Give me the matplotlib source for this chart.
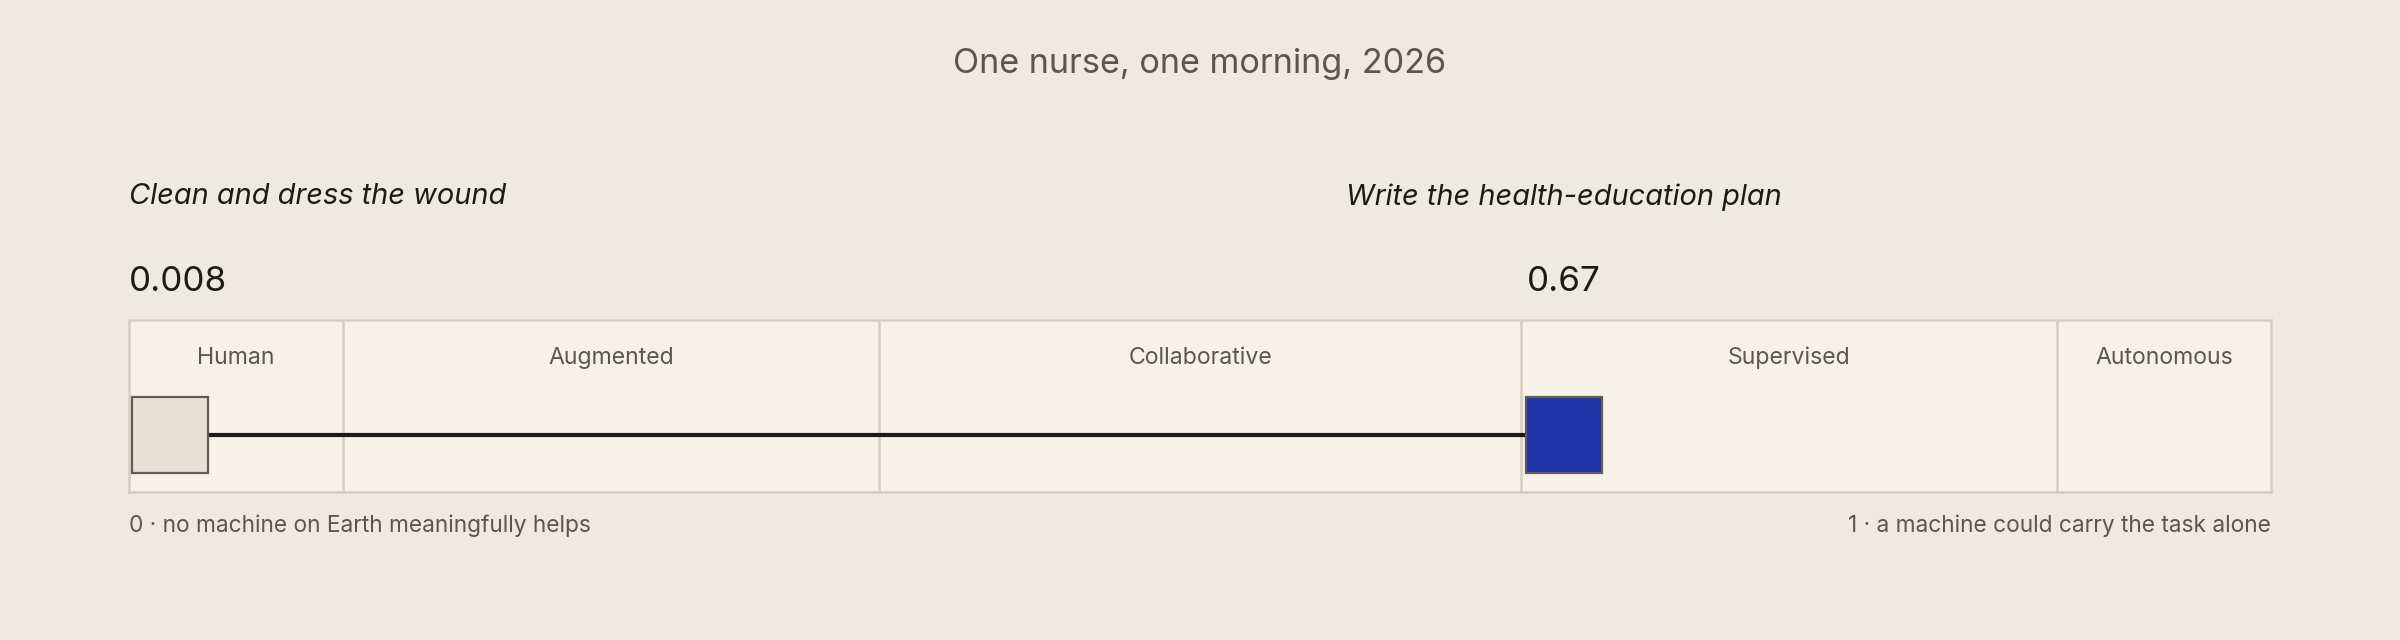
import matplotlib
matplotlib.use("Agg")
import matplotlib.pyplot as plt
from matplotlib.transforms import blended_transform_factory

plt.rcParams["font.family"] = ["Inter", "DejaVu Sans"]

# data
title = "One nurse, one morning, 2026"
tasks = ["Clean and dress the wound", "Write the health-education plan"]
scores = [0.008, 0.67]
score_labels = ["0.008", "0.67"]
marker_fill = ["#E8E1D5", "#1F34A9"]
zones = ["Human", "Augmented", "Collaborative", "Supervised", "Autonomous"]
zone_edges = [0.0, 0.1, 0.35, 0.65, 0.9, 1.0]
axis_left_note = "0 · no machine on Earth meaningfully helps"
axis_right_note = "1 · a machine could carry the task alone"

BG = "#EEEAE0"
BAND = "#F6F2E8"
RULE = "#D5CEBF"
INK = "#1C1B18"
MUTED = "#5B574E"

W, H, DPI = 2400, 640, 200
fig = plt.figure(figsize=(W / DPI, H / DPI), dpi=DPI, facecolor=BG)

# band geometry in pixels
bx0, bx1, by0, by1 = 129, 2271, 320, 491.5
ax = fig.add_axes([bx0 / W, 1 - by1 / H, (bx1 - bx0) / W, (by1 - by0) / H])
ax.set_xlim(0, 1)
ax.set_ylim(0, 1)
ax.set_facecolor(BAND)
for s in ax.spines.values():
    s.set_color(RULE)
    s.set_linewidth(0.9)
ax.set_xticks([])
ax.set_yticks([])

for e in zone_edges[1:-1]:
    ax.axvline(e, color=RULE, lw=0.9, zorder=1)
for name, a, b in zip(zones, zone_edges[:-1], zone_edges[1:]):
    ax.text((a + b) / 2, 0.78, name, ha="center", va="center",
            fontsize=8.3, color=MUTED)

# markers clamped so they stay inside the band
msize_px = 76
half = (msize_px / 2 + 3) / (bx1 - bx0)
xs = [min(max(v, half), 1 - half) for v in scores]
y_line = 0.33
ax.plot(xs, [y_line] * len(xs), color=INK, lw=1.5, zorder=2,
        solid_capstyle="butt")
for x, fc in zip(xs, marker_fill):
    ax.plot([x], [y_line], marker="s", ms=msize_px * 72 / DPI, mfc=fc,
            mec="#625D51", mew=0.8, ls="none", zorder=3, clip_on=False)

# labels above the band, centred on the marker but kept within band edges
fig.canvas.draw()
renderer = fig.canvas.get_renderer()


def place(text, x, y_px, size, style="normal", color=INK):
    px = ax.transData.transform((x, 0))[0]
    t = fig.text(px / W, 1 - y_px / H, text, ha="center", va="center",
                 fontsize=size, style=style, color=color)
    bb = t.get_window_extent(renderer)
    if bb.x0 < bx0:
        t.set_ha("left")
        t.set_x(bx0 / W)
    elif bb.x1 > bx1:
        t.set_ha("right")
        t.set_x(bx1 / W)
    return t


for task, lab, x in zip(tasks, score_labels, xs):
    place(task, x, 197, 10.45, style="italic")
    place(lab, x, 282, 12.6)

fig.text(0.5, 1 - 64 / H, title, ha="center", va="center",
         fontsize=12.3, color=MUTED)

tr = blended_transform_factory(ax.transData, ax.transAxes)
ax.text(0, -0.20, axis_left_note, transform=tr, ha="left", va="center",
        fontsize=8.2, color=MUTED)
ax.text(1, -0.20, axis_right_note, transform=tr, ha="right", va="center",
        fontsize=8.2, color=MUTED)

fig.savefig("out.png", dpi=DPI, facecolor=BG)
